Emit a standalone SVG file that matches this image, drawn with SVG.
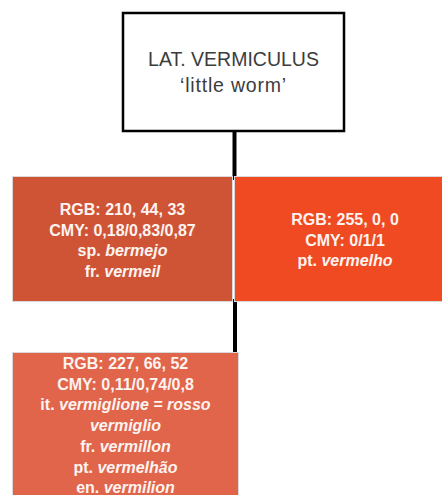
<svg xmlns="http://www.w3.org/2000/svg" width="442" height="495" viewBox="0 0 442 495">
<style>
.t{font-family:"Liberation Sans",Arial,sans-serif;font-size:16px;font-weight:bold;fill:#fdf3f0;text-anchor:middle}
.i{font-style:italic}
.h{font-family:"Liberation Sans",Arial,sans-serif;font-size:19.5px;fill:#3c3c3c;text-anchor:middle}
.box{stroke:#d9d9d9;stroke-width:1}
.edge{stroke:#000;stroke-width:4;fill:none}
</style>
<rect width="442" height="495" fill="#fff"/>
<g id="connectors">
<line class="edge" x1="234.5" y1="130" x2="234.5" y2="180"/>
<line class="edge" x1="235" y1="299" x2="235" y2="355"/>
</g>
<g id="root">
<rect x="123" y="13" width="221" height="118" fill="#fff" stroke="#000" stroke-width="2.5"/>
<text class="h" x="233.5" y="66">LAT. VERMICULUS</text>
<text class="h" x="233.5" y="92" font-size="20.5" letter-spacing="0.8">‘little worm’</text>
</g>
<g id="bermejo">
<rect class="box" x="12.5" y="176.5" width="220" height="125" fill="#cf5436"/>
<text class="t" x="122.5" y="215">RGB: 210, 44, 33</text>
<text class="t" x="122.5" y="235.7">CMY: 0,18/0,83/0,87</text>
<text class="t" x="122.5" y="256.4">sp. <tspan class="i">bermejo</tspan></text>
<text class="t" x="122.5" y="277">fr. <tspan class="i">vermeil</tspan></text>
</g>
<g id="vermelho">
<rect class="box" x="234.5" y="176.5" width="220" height="125" fill="#ef4a22"/>
<text class="t" x="345" y="225">RGB: 255, 0, 0</text>
<text class="t" x="345" y="245.7">CMY: 0/1/1</text>
<text class="t" x="345" y="266.4">pt. <tspan class="i">vermelho</tspan></text>
</g>
<g id="vermilion">
<rect class="box" x="12.5" y="352.5" width="226" height="160" fill="#e0654b"/>
<text class="t" x="125.5" y="369">RGB: 227, 66, 52</text>
<text class="t" x="125.5" y="389.7">CMY: 0,11/0,74/0,8</text>
<text class="t" x="125.5" y="410.4">it. <tspan class="i">vermiglione = rosso</tspan></text>
<text class="t i" x="125.5" y="431.1">vermiglio</text>
<text class="t" x="125.5" y="451.8">fr. <tspan class="i">vermillon</tspan></text>
<text class="t" x="125.5" y="472.5">pt. <tspan class="i">vermelhão</tspan></text>
<text class="t" x="125.5" y="493.2">en. <tspan class="i">vermilion</tspan></text>
</g>
</svg>
